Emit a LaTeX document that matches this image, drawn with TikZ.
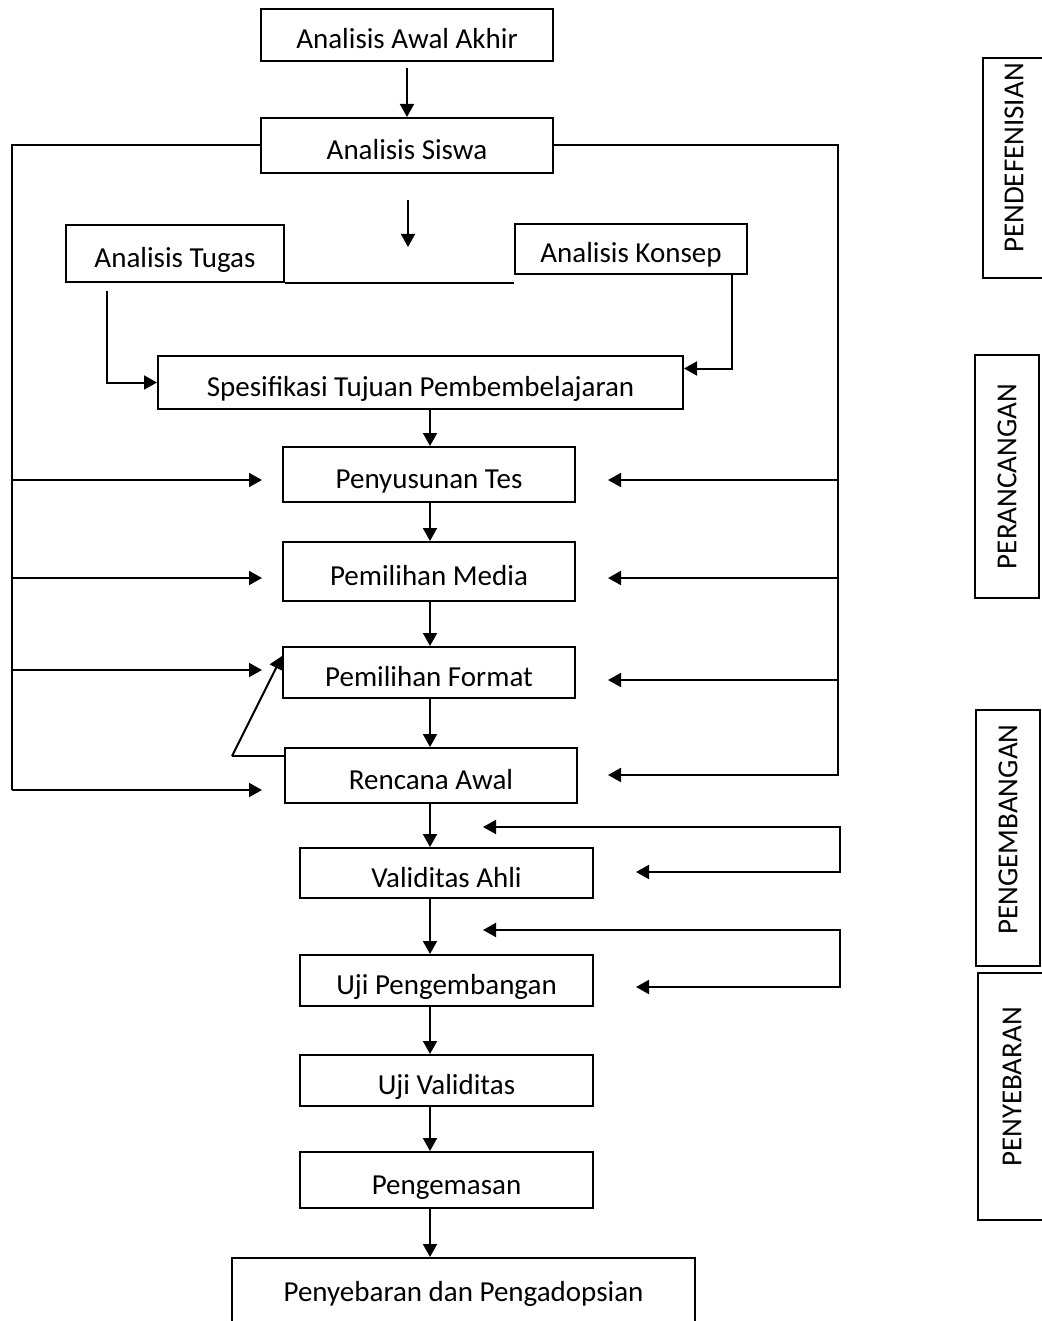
\documentclass[tikz,border=0pt]{standalone}
\usepackage{fontspec}
\setmainfont{Carlito}
\usetikzlibrary{arrows.meta,positioning,calc}

\begin{document}
\begin{tikzpicture}[x=0.5pt,y=-0.5pt,>={Triangle[length=6.5pt,width=7pt]},line width=1pt,
  every node/.style={font=\fontsize{14.5}{17}\selectfont},
  box/.style={draw,line width=1pt,inner sep=0pt,minimum width=146pt,text height=14pt,text depth=0pt},
  phase/.style={draw,line width=1pt,inner sep=0pt,rotate=90}]
\clip (0,0) rectangle (1042,1321);
% main column
\node[box,minimum height=26pt] (awal) at (407,35) {Analisis Awal Akhir};
\node[box,minimum height=27.5pt] (siswa) at (407,145.5) {Analisis Siswa};
\node[box,minimum width=109pt,minimum height=28.5pt] (tugas) at (175,253.5) {Analisis Tugas};
\node[box,minimum width=116pt,minimum height=25pt] (konsep) at (631,249) {Analisis Konsep};
\node[box,minimum width=262.5pt,minimum height=26.5pt] (spes) at (420.5,382.5) {Spesifikasi Tujuan Pembembelajaran};
\node[box,minimum height=27.5pt] (tes) at (429,474.5) {Penyusunan Tes};
\node[box,minimum height=29.5pt] (media) at (429,571.5) {Pemilihan Media};
\node[box,minimum height=25.5pt] (format) at (429,672.5) {Pemilihan Format};
\node[box,minimum height=27.5pt] (rencana) at (431,775.5) {Rencana Awal};
\node[box,minimum width=146.5pt,minimum height=25pt] (vahli) at (446.5,873) {Validitas Ahli};
\node[box,minimum width=146.5pt,minimum height=25.5pt] (ujipeng) at (446.5,980.5) {Uji Pengembangan};
\node[box,minimum width=146.5pt,minimum height=25.5pt] (ujival) at (446.5,1080.5) {Uji Validitas};
\node[box,minimum width=146.5pt,minimum height=28pt] (kemas) at (446.5,1180) {Pengemasan};
\node[box,minimum width=231.5pt,minimum height=33pt,text height=10pt] (sebar) at (463.5,1291) {Penyebaran dan Pengadopsian};
% phase labels
\node[phase,minimum width=110pt,minimum height=31pt] (pend) at (1014,168) {\hspace*{10pt}PENDEFENISIAN};
\node[phase,minimum width=121.5pt,minimum height=32pt] (peran) at (1007,476.5) {PERANCANGAN};
\node[phase,minimum width=128pt,minimum height=32pt] (pengem) at (1008,838) {\hspace*{8.5pt}PENGEMBANGAN};
\node[phase,minimum width=123.5pt,minimum height=34pt] (penyeb) at (1012,1096.5) {\hspace*{9.5pt}PENYEBARAN};
% helper points
\coordinate (spine) at (430,0);
\coordinate (gaptop) at (408,200);
\coordinate (gapend) at (408,247);
\coordinate (lbus) at (12,790);
\coordinate (rbus) at (838,776);
\coordinate (ltip) at (262,0);
\coordinate (rtip) at (608,0);
\coordinate (back) at (232,756);
\coordinate (vtip) at (483,0);
\coordinate (vend) at (636,0);
\coordinate (va) at (840,827);
\coordinate (vb) at (840,872);
\coordinate (vc) at (840,930);
\coordinate (vd) at (840,987);
% connectors
\draw[->] ([yshift=-3pt]awal.south) -- (siswa.north);
\draw[->] (gaptop) -- (gapend);
\draw (tugas.south east) -- (konsep.west |- tugas.south east);
\draw[->] ([xshift=21pt,yshift=-4pt]tugas.south west) |- (spes.west);
\draw[->] ([xshift=-8pt]konsep.south east) |- ([yshift=7pt]spes.east);
\foreach \a/\b in {spes/tes,tes/media,media/format,format/rencana,rencana/vahli,vahli/ujipeng,ujipeng/ujival,ujival/kemas,kemas/sebar}
  \draw[->] (spine |- \a.south) -- (spine |- \b.north);
\draw (siswa.west) -| (lbus);
\draw (siswa.east) -| (rbus);
\foreach \y in {480,578,670,790}
  \draw[->] (lbus |- 0,\y) -- (ltip |- 0,\y);
\foreach \y in {480,578,680,775}
  \draw[->] (rbus |- 0,\y) -- (rtip |- 0,\y);
\draw (rencana.west |- back) -- (back);
\draw[->] (back) -- ([yshift=-5pt]format.north west);
\draw[<->] (vtip |- va) -- (va) -- (vb) -- (vend |- vb);
\draw[<->] (vtip |- vc) -- (vc) -- (vd) -- (vend |- vd);
\end{tikzpicture}
\end{document}
